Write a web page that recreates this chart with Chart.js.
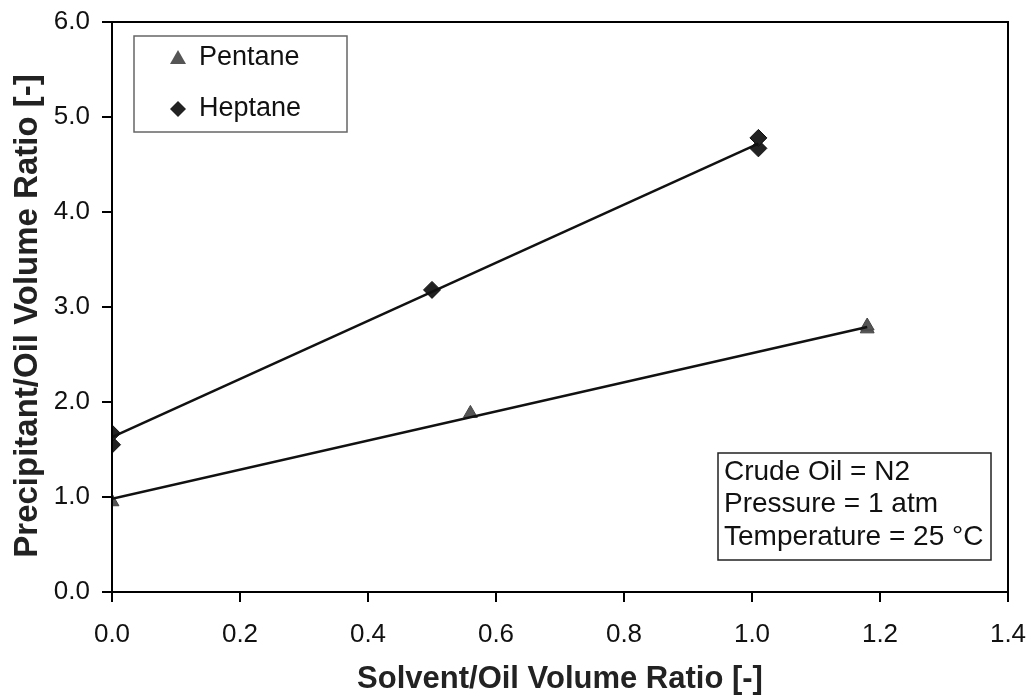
<!DOCTYPE html>
<html>
<head>
<meta charset="utf-8">
<script src="https://cdn.jsdelivr.net/npm/chart.js@4.4.0/dist/chart.umd.min.js"></script>
<style>
  html, body { margin: 0; padding: 0; background: #fff; }
  #wrap { width: 1034px; height: 699px; }
</style>
</head>
<body>
<div id="wrap"><canvas id="chart" width="1034" height="699"></canvas></div>
<script>
// data
const pentaneX = [0.0, 0.56, 1.18, 1.18];
const pentaneY = [0.95, 1.88, 2.77, 2.80];
const heptaneX = [0.0, 0.0, 0.5, 1.01, 1.01];
const heptaneY = [1.55, 1.67, 3.18, 4.67, 4.78];
// fitted lines (end points)
const pentaneFitX = [0.0, 1.18];
const pentaneFitY = [0.98, 2.79];
const heptaneFitX = [0.0, 1.01];
const heptaneFitY = [1.63, 4.72];

const xTicks = [0, 0.2, 0.4, 0.6, 0.8, 1.0, 1.2, 1.4];
const yTicks = [0, 1, 2, 3, 4, 5, 6];
const notes = ["Crude Oil = N2", "Pressure = 1 atm", "Temperature = 25 °C"];
const yTitle = "Precipitant/Oil Volume Ratio [-]";
const xTitle = "Solvent/Oil Volume Ratio [-]";

const FONT = '"Liberation Sans", Arial, sans-serif';

const pts = (xs, ys) => xs.map((x, i) => ({ x: x, y: ys[i] }));

function drawTri(ctx, x, y, r, fill) {
  ctx.beginPath();
  ctx.moveTo(x, y - r);
  ctx.lineTo(x + r, y + r * 0.75);
  ctx.lineTo(x - r, y + r * 0.75);
  ctx.closePath();
  ctx.fillStyle = fill;
  ctx.fill();
}
function drawDiamond(ctx, x, y, r, fill) {
  ctx.beginPath();
  ctx.moveTo(x, y - r);
  ctx.lineTo(x + r, y);
  ctx.lineTo(x, y + r);
  ctx.lineTo(x - r, y);
  ctx.closePath();
  ctx.fillStyle = fill;
  ctx.fill();
}

// frame, y title, legend box and the conditions box
const extras = {
  id: "extras",
  afterDraw(chart) {
    const ctx = chart.ctx;
    const a = chart.chartArea;
    ctx.save();
    ctx.strokeStyle = "#000";
    ctx.lineWidth = 2;
    ctx.strokeRect(a.left, a.top, a.right - a.left, a.bottom - a.top);

    // y axis title
    ctx.save();
    ctx.translate(28, 316);
    ctx.rotate(-Math.PI / 2);
    ctx.fillStyle = "#222";
    ctx.font = "bold 33px " + FONT;
    ctx.textAlign = "center";
    ctx.textBaseline = "middle";
    ctx.fillText(yTitle, 0, 0);
    ctx.restore();

    // legend
    ctx.strokeStyle = "#666";
    ctx.lineWidth = 1.5;
    ctx.strokeRect(134, 36, 213, 96);
    drawTri(ctx, 178, 58, 8, "#555");
    drawDiamond(ctx, 178, 109, 8, "#222");
    ctx.fillStyle = "#111";
    ctx.font = "27px " + FONT;
    ctx.textBaseline = "middle";
    ctx.textAlign = "left";
    ctx.fillText("Pentane", 199, 58);
    ctx.fillText("Heptane", 199, 109);

    // conditions
    ctx.strokeStyle = "#222";
    ctx.strokeRect(718, 453, 273, 107);
    ctx.font = "28px " + FONT;
    notes.forEach((t, i) => ctx.fillText(t, 724, 472 + i * 32.5));
    ctx.restore();
  }
};

new Chart(document.getElementById("chart"), {
  type: "scatter",
  data: {
    datasets: [
      {
        label: "Pentane fit", type: "line", data: pts(pentaneFitX, pentaneFitY),
        borderColor: "#111", borderWidth: 2.5, pointRadius: 0, fill: false
      },
      {
        label: "Heptane fit", type: "line", data: pts(heptaneFitX, heptaneFitY),
        borderColor: "#111", borderWidth: 2.5, pointRadius: 0, fill: false
      },
      {
        label: "Pentane", data: pts(pentaneX, pentaneY),
        pointStyle: "triangle", pointRadius: 8, backgroundColor: "#555", borderColor: "#444", borderWidth: 1
      },
      {
        label: "Heptane", data: pts(heptaneX, heptaneY),
        pointStyle: "rectRot", pointRadius: 8.5, backgroundColor: "#222", borderColor: "#111", borderWidth: 1
      }
    ]
  },
  options: {
    responsive: false,
    animation: false,
    layout: { padding: { top: 22, right: 26, left: 0, bottom: 0 } },
    plugins: { legend: { display: false }, tooltip: { enabled: false } },
    scales: {
      x: {
        type: "linear", min: 0, max: 1.4,
        afterBuildTicks: s => { s.ticks = xTicks.map(v => ({ value: v })); },
        afterFit: s => { s.height = 107; s.paddingLeft = 0; s.paddingRight = 0; },
        ticks: { color: "#111", font: { family: FONT, size: 26 }, padding: 17, maxRotation: 0,
                 callback: v => v.toFixed(1) },
        grid: { drawOnChartArea: false, drawTicks: true, tickLength: 10, color: "#000", lineWidth: 2 },
        border: { display: true, color: "#000", width: 2 },
        title: { display: true, text: xTitle, color: "#222",
                 font: { family: FONT, size: 31, weight: "bold" }, padding: { top: 0, bottom: 1 } }
      },
      y: {
        type: "linear", min: 0, max: 6,
        afterBuildTicks: s => { s.ticks = yTicks.map(v => ({ value: v })); },
        afterFit: s => { s.width = 112; s.paddingTop = 0; s.paddingBottom = 0; },
        ticks: { color: "#111", font: { family: FONT, size: 26 }, padding: 12,
                 callback: v => v.toFixed(1) },
        grid: { drawOnChartArea: false, drawTicks: true, tickLength: 10, color: "#000", lineWidth: 2 },
        border: { display: true, color: "#000", width: 2 },
        title: { display: false }
      }
    }
  },
  plugins: [extras]
});
</script>
</body>
</html>
